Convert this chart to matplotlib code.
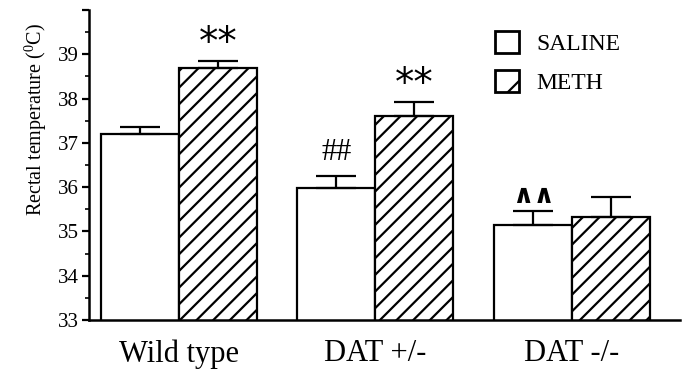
import matplotlib
matplotlib.use("Agg")
import matplotlib.pyplot as plt
from matplotlib.patches import Patch
import numpy as np

groups = ["Wild type", "DAT +/-", "DAT -/-"]
saline = [37.2, 35.98, 35.14]
saline_err = [0.15, 0.27, 0.32]
meth = [38.69, 37.6, 35.33]
meth_err = [0.16, 0.32, 0.45]
saline_marks = ["", "##", "\u2227\u2227"]
meth_marks = ["**", "**", ""]
yticks = [33, 34, 35, 36, 37, 38, 39, 40]
yticklabels = ["33", "34", "35", "36", "37", "38", "39", ""]

plt.rcParams['font.family'] = ['Liberation Serif', 'DejaVu Serif']
plt.rcParams['mathtext.fontset'] = 'custom'
plt.rcParams['mathtext.rm'] = 'Liberation Serif'
plt.rcParams['mathtext.it'] = 'Liberation Serif'
plt.rcParams['hatch.linewidth'] = 1.6

fig = plt.figure(figsize=(6.86, 3.71), dpi=100)
ax = fig.add_axes([89/686, 1-320/371, (680-89)/686, (320-10)/371])

x = np.arange(len(groups))
w = 0.397
ekw = dict(elinewidth=1.6, capthick=1.6, ecolor='black')
ax.bar(x - w/2, saline, w, color='white', edgecolor='black', linewidth=1.6,
       yerr=[np.zeros(3), saline_err], capsize=14.5, error_kw=ekw, zorder=2)
ax.bar(x + w/2, meth, w, color='white', edgecolor='black', linewidth=1.6, hatch='//',
       yerr=[np.zeros(3), meth_err], capsize=14.5, error_kw=ekw, zorder=2)

for i in range(3):
    m = saline_marks[i]
    if m == "##":
        ax.text(x[i] - w/2, saline[i] + saline_err[i] + 0.2, m, ha='center', va='bottom', fontsize=22)
    elif m:
        ax.text(x[i] - w/2, saline[i] + saline_err[i] + 0.04, m, ha='center', va='bottom',
                fontsize=19, family='DejaVu Sans', fontweight='semibold')
    if meth_marks[i]:
        ax.text(x[i] + w/2, meth[i] + meth_err[i] - 0.02, meth_marks[i], ha='center', va='bottom',
                fontsize=28, family='DejaVu Sans')

ax.set_ylim(33, 40)
ax.set_xlim(-0.458, 2.55)
ax.set_yticks(yticks)
ax.set_yticklabels(yticklabels, fontsize=15)
ax.set_yticks(np.arange(33.5, 40, 1), minor=True)
ax.tick_params(axis='y', which='major', length=5, width=1.6, pad=2)
ax.tick_params(axis='y', which='minor', length=3, width=1.2)
ax.set_xticks(x)
ax.set_xticklabels(groups, fontsize=22)
ax.tick_params(axis='x', length=0, pad=14)
for s in ['top', 'right']:
    ax.spines[s].set_visible(False)
for s in ['left', 'bottom']:
    ax.spines[s].set_linewidth(1.8)

fig.text(36/686, 1-119/371, r"Rectal temperature ($^{0}$C)", rotation=90, ha='center', va='center', fontsize=14.5)

handles = [Patch(facecolor='white', edgecolor='black', linewidth=2.0, label='SALINE'),
           Patch(facecolor='white', edgecolor='black', linewidth=2.0, hatch='/', label='METH')]
ax.legend(handles=handles, loc='upper left', bbox_to_anchor=((495-89)/591, 1 - (31-10)/310), frameon=False,
          fontsize=17, handlelength=1.0, handleheight=1.05, handletextpad=0.75, labelspacing=0.62,
          borderaxespad=0, borderpad=0)

fig.savefig("out.png", dpi=100)
